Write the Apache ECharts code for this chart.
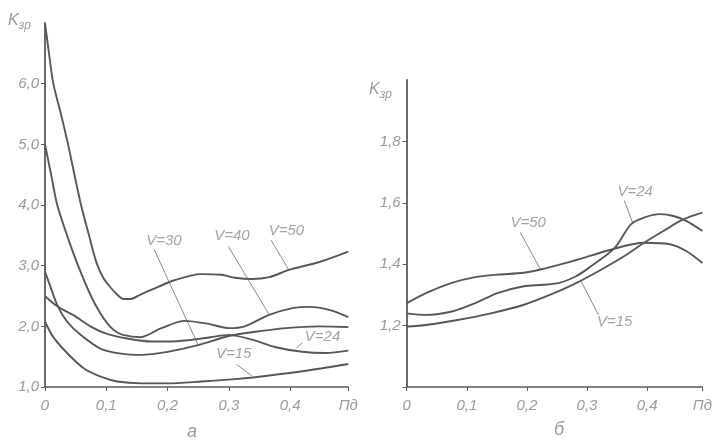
<!DOCTYPE html>
<html><head><meta charset="utf-8">
<script src="https://cdn.jsdelivr.net/npm/echarts@6/dist/echarts.min.js"></script>
<style>html,body{margin:0;padding:0;background:#fff}#c{width:715px;height:442px}</style>
</head><body><div id="c"></div>
<script>
// Panel "а" (left): K_зр vs Пд for several V
const leftV50 = [[0,7.0],[0.0065,6.5],[0.0136,6.0],[0.026,5.5],[0.0376,5.0],[0.048,4.5],[0.0588,4.0],[0.0718,3.5],[0.084,3.05],[0.095,2.8],[0.107,2.64],[0.118,2.52],[0.128,2.45],[0.14,2.45],[0.155,2.52],[0.173,2.6],[0.211,2.76],[0.255,2.86],[0.288,2.85],[0.31,2.8],[0.338,2.78],[0.366,2.81],[0.398,2.93],[0.448,3.06],[0.495,3.23]];
const leftV40 = [[0,5.0],[0.004,4.8],[0.01,4.5],[0.02,4.0],[0.036,3.5],[0.054,3.0],[0.075,2.5],[0.09,2.22],[0.104,2.02],[0.115,1.92],[0.127,1.86],[0.155,1.82],[0.19,1.97],[0.228,2.09],[0.267,2.04],[0.30,1.97],[0.326,2.0],[0.366,2.19],[0.404,2.30],[0.432,2.32],[0.464,2.27],[0.495,2.15]];
const leftV30 = [[0,2.9],[0.008,2.68],[0.02,2.35],[0.036,2.08],[0.058,1.86],[0.091,1.63],[0.124,1.55],[0.157,1.53],[0.2,1.58],[0.25,1.69],[0.3,1.84],[0.343,1.91],[0.393,1.97],[0.448,2.0],[0.495,1.99]];
const leftV24 = [[0,2.5],[0.02,2.33],[0.047,2.18],[0.074,2.0],[0.1,1.88],[0.134,1.8],[0.173,1.75],[0.2,1.75],[0.233,1.77],[0.27,1.82],[0.3,1.86],[0.338,1.78],[0.375,1.66],[0.42,1.58],[0.458,1.56],[0.495,1.60]];
const leftV15 = [[0,2.08],[0.013,1.83],[0.036,1.56],[0.063,1.31],[0.091,1.17],[0.118,1.09],[0.157,1.06],[0.2,1.06],[0.255,1.09],[0.31,1.13],[0.366,1.19],[0.42,1.26],[0.495,1.38]];
// Panel "б" (right)
const rightV50 = [[0,1.273],[0.032,1.306],[0.075,1.339],[0.114,1.358],[0.151,1.366],[0.195,1.372],[0.227,1.385],[0.276,1.41],[0.341,1.448],[0.395,1.47],[0.438,1.465],[0.465,1.443],[0.492,1.404]];
const rightV24 = [[0,1.24],[0.032,1.235],[0.075,1.246],[0.114,1.273],[0.151,1.306],[0.195,1.328],[0.227,1.333],[0.254,1.339],[0.281,1.36],[0.303,1.388],[0.346,1.453],[0.373,1.53],[0.395,1.552],[0.422,1.563],[0.444,1.557],[0.465,1.541],[0.492,1.508]];
const rightV15 = [[0,1.197],[0.032,1.202],[0.087,1.219],[0.14,1.24],[0.195,1.268],[0.238,1.30],[0.276,1.333],[0.303,1.36],[0.335,1.395],[0.365,1.43],[0.395,1.47],[0.427,1.508],[0.46,1.546],[0.492,1.568]];
// Tick values
const xTicks = [0, 0.1, 0.2, 0.3, 0.4];
const xEndLabel = 'Пд';
const leftYTicks = [1, 2, 3, 4, 5, 6];
const rightYTicks = [1.2, 1.4, 1.6, 1.8];
const yName = 'K';
const yNameSub = 'зр';
const captions = ['а', 'б'];
// Annotations (data coordinates): text, text anchor, leader start, leader end
const leftNotes = [
  {t:'V=30', at:[0.194,3.41], from:[0.178,3.27], to:[0.25,1.69]},
  {t:'V=40', at:[0.305,3.49], from:[0.299,3.32], to:[0.366,2.19]},
  {t:'V=50', at:[0.394,3.57], from:[0.369,3.42], to:[0.398,2.93]},
  {t:'V=24', at:[0.453,1.83], from:[0.42,1.73], to:[0.41,1.64]},
  {t:'V=15', at:[0.308,1.54], from:[0.313,1.37], to:[0.338,1.18]}
];
const rightNotes = [
  {t:'V=50', at:[0.202,1.534], from:[0.189,1.503], to:[0.222,1.385]},
  {t:'V=24', at:[0.38,1.636], from:[0.362,1.607], to:[0.376,1.535]},
  {t:'V=15', at:[0.346,1.213], from:[0.319,1.235], to:[0.29,1.345]}
];

const FONT = 'Liberation Sans';
const LBL = '#9a9a9a';
const AX = '#5a5a5a';
const CURVE = '#575757';

function fmt(v){ return v.toFixed(1).replace('.', ','); }
function near(list, v){ return list.some(t => Math.abs(t - v) < 1e-6); }

function xAxisCfg(grid, max){
  return {
    type:'value', gridIndex:grid, min:0, max:max, interval:0.1,
    axisLine:{show:true, lineStyle:{color:AX, width:1.5}},
    axisTick:{show:true, length:4, inside:false, lineStyle:{color:AX}},
    splitLine:{show:false},
    axisLabel:{color:LBL, fontStyle:'italic', fontFamily:FONT, fontSize:15, margin:11,
      showMaxLabel:true, showMinLabel:true,
      formatter:v => near(xTicks, v) ? (v === 0 ? '0' : fmt(v)) : xEndLabel}
  };
}
function yAxisCfg(grid, min, max, interval, ticks){
  return {
    type:'value', gridIndex:grid, min:min, max:max, interval:interval,
    axisLine:{show:true, lineStyle:{color:AX, width:1.8}},
    axisTick:{show:true, length:4, inside:false, lineStyle:{color:AX},
      interval:(i, v) => near(ticks, Number(v))},
    splitLine:{show:false},
    axisLabel:{color:LBL, fontStyle:'italic', fontFamily:FONT, fontSize:15, margin:6,
      showMaxLabel:false,
      formatter:v => near(ticks, v) ? fmt(v) : ''}
  };
}
function curve(data, xi, yi){
  return {type:'line', data:data, xAxisIndex:xi, yAxisIndex:yi, smooth:0.3,
    symbol:'none', silent:true, lineStyle:{color:CURVE, width:1.9}, z:3};
}
function notes(list, xi, yi){
  const out = [];
  list.forEach(n => {
    out.push({type:'line', data:[n.from, n.to], xAxisIndex:xi, yAxisIndex:yi, symbol:'none',
      silent:true, lineStyle:{color:'#8a8a8a', width:1}, z:2});
  });
  out.push({type:'scatter', xAxisIndex:xi, yAxisIndex:yi, symbolSize:0, silent:true,
    data:list.map(n => ({value:n.at, name:n.t})),
    label:{show:true, position:'inside', formatter:p => p.name, color:'#8c8c8c',
      fontStyle:'italic', fontFamily:FONT, fontSize:15}, z:4});
  return out;
}

const chart = echarts.init(document.getElementById('c'), null, {renderer:'canvas'});
const kRich = {
  k:{fontSize:16, fontStyle:'italic', fontFamily:FONT, fill:LBL, color:LBL},
  s:{fontSize:12, fontStyle:'italic', fontFamily:FONT, fill:LBL, color:LBL, padding:[9,0,0,0]}
};
chart.setOption({
  animation:false,
  backgroundColor:'#fff',
  grid:[
    {left:45, top:23, width:303.3, height:364, containLabel:false},
    {left:406.7, top:80, width:303.3, height:307, containLabel:false}
  ],
  xAxis:[xAxisCfg(0, 0.495), xAxisCfg(1, 0.492)],
  yAxis:[yAxisCfg(0, 1, 7, 1, leftYTicks), yAxisCfg(1, 1, 2, 0.2, rightYTicks)],
  graphic:[
    {type:'text', left:8, top:13, style:{text:'{k|' + yName + '}{s|' + yNameSub + '}', rich:kRich}},
    {type:'text', left:369, top:82, style:{text:'{k|' + yName + '}{s|' + yNameSub + '}', rich:kRich}},
    {type:'text', left:187, top:423, style:{text:captions[0], fontSize:18, fontStyle:'italic', fontFamily:FONT, fill:LBL}},
    {type:'text', left:554, top:421, style:{text:captions[1], fontSize:18, fontStyle:'italic', fontFamily:FONT, fill:LBL}}
  ],
  series:[
    curve(leftV50,0,0), curve(leftV40,0,0), curve(leftV30,0,0), curve(leftV24,0,0), curve(leftV15,0,0),
    curve(rightV50,1,1), curve(rightV24,1,1), curve(rightV15,1,1),
    ...notes(leftNotes,0,0), ...notes(rightNotes,1,1)
  ]
});
</script></body></html>
